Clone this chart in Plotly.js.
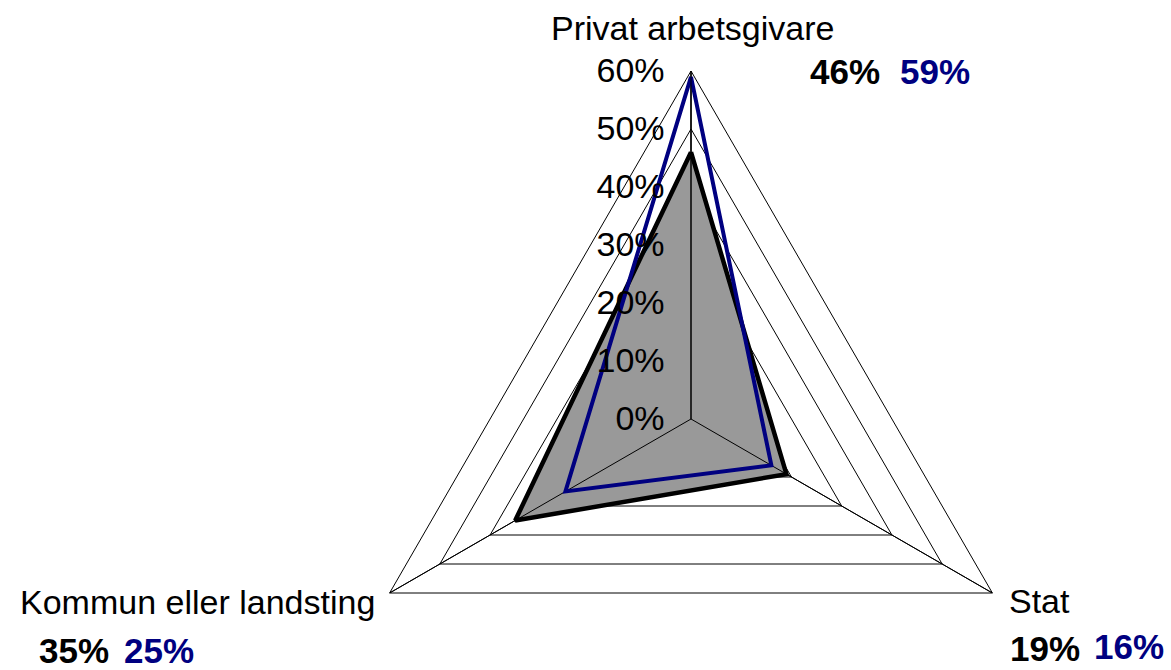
<!DOCTYPE html>
<html><head><meta charset="utf-8">
<script src="https://cdn.plot.ly/plotly-3.0.1.min.js"></script>
<style>html,body{margin:0;padding:0;overflow:hidden;background:#fff;width:1171px;height:670px}#chart{width:1171px;height:800px}</style>
</head><body><div id="chart"></div>
<script>
const categories = ['Privat arbetsgivare', 'Stat', 'Kommun eller landsting'];
const seriesBlack = [0.46, 0.19, 0.35];
const seriesBlue = [0.59, 0.16, 0.25];
const radialTicks = [0, 0.1, 0.2, 0.3, 0.4, 0.5, 0.6];
const radialMax = 0.6;

const W = 1171, H = 800;
const px = x => x / W, py = y => 1 - y / H;
const pct = v => Math.round(v * 100) + '%';
const close = a => a.concat([a[0]]);
const FONT = 'Liberation Sans, Arial, sans-serif';

// spokes drawn above the opaque fill
const spokeR = [], spokeT = [];
categories.forEach(c => { spokeR.push(0, radialMax, null); spokeT.push(c, c, null); });

const traces = [
  {type: 'scatterpolar', r: close(seriesBlack), theta: close(categories), mode: 'lines',
   fill: 'toself', fillcolor: '#999999', line: {color: '#000000', width: 4.5}, hoverinfo: 'skip'},
  {type: 'scatterpolar', r: spokeR, theta: spokeT, mode: 'lines', connectgaps: false,
   line: {color: '#000000', width: 1}, hoverinfo: 'skip'},
  {type: 'scatterpolar', r: close(seriesBlue), theta: close(categories), mode: 'lines',
   line: {color: '#000080', width: 4}, hoverinfo: 'skip'}
];

const blackPos = [{x: 808, y: 72}, {x: 1008, y: 648}, {x: 37, y: 650}];
const bluePos = [{x: 898, y: 72}, {x: 1092, y: 646}, {x: 122, y: 650}];
const catPos = [
  {x: 692, y: 28, xa: 'center'},
  {x: 1007, y: 601, xa: 'left'},
  {x: 377, y: 602, xa: 'right'}
];
const annotations = [];
categories.forEach((c, i) => {
  annotations.push({
    xref: 'paper', yref: 'paper', x: px(catPos[i].x), y: py(catPos[i].y),
    xanchor: catPos[i].xa, yanchor: 'middle', showarrow: false, text: c,
    font: {family: FONT, size: 34, color: '#000000'}
  });
  annotations.push({
    xref: 'paper', yref: 'paper', x: px(blackPos[i].x), y: py(blackPos[i].y),
    xanchor: 'left', yanchor: 'middle', showarrow: false,
    text: '<b>' + pct(seriesBlack[i]) + '</b>',
    font: {family: FONT, size: 35, color: '#000000'}
  });
  annotations.push({
    xref: 'paper', yref: 'paper', x: px(bluePos[i].x), y: py(bluePos[i].y),
    xanchor: 'left', yanchor: 'middle', showarrow: false,
    text: '<b>' + pct(seriesBlue[i]) + '</b>',
    font: {family: FONT, size: 35, color: '#000080'}
  });
});

const layout = {
  width: W, height: H, margin: {l: 0, r: 0, t: 0, b: 0},
  paper_bgcolor: '#ffffff', showlegend: false,
  font: {family: FONT, size: 34, color: '#000000'},
  polar: {
    domain: {x: [px(691 - 348), px(691 + 348)], y: [py(419 + 348), py(419 - 348)]},
    gridshape: 'linear', bgcolor: '#ffffff',
    angularaxis: {rotation: 90, direction: 'clockwise', showline: true, linecolor: '#000000', linewidth: 1,
      gridcolor: '#000000', gridwidth: 1, ticks: '', showticklabels: false},
    radialaxis: {range: [0, radialMax], tickvals: radialTicks, ticktext: radialTicks.map(pct), angle: 90,
      side: 'counterclockwise', showline: true, linecolor: '#000000', linewidth: 1,
      gridcolor: '#000000', gridwidth: 1, ticks: 'outside', ticklen: 14, tickcolor: 'rgba(0,0,0,0)', tickangle: 90,
      tickfont: {family: FONT, size: 34, color: '#000000'}}
  },
  annotations: annotations
};
Plotly.newPlot('chart', traces, layout, {displayModeBar: false, staticPlot: true});
</script></body></html>
